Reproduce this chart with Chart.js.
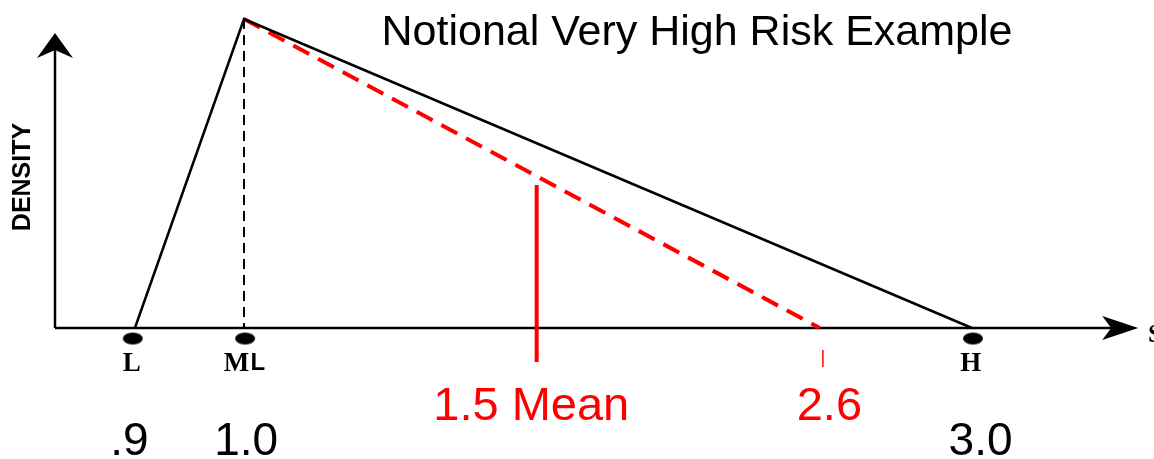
<!DOCTYPE html>
<html>
<head>
<meta charset="utf-8">
<script src="https://cdn.jsdelivr.net/npm/chart.js@4"></script>
<style>
  html, body { margin: 0; padding: 0; background: #fff; }
  #wrap { width: 1154px; height: 459px; }
</style>
</head>
<body>
<div id="wrap"><canvas id="canvas"></canvas></div>
<script>
// schematic x positions (0 = origin of axis, 100 = arrow tip), density 0..1 at mode
var lowX = 7.4, modeX = 17.5, highX = 84.9;
var meanX = 44.6, meanTop = 0.463, meanBottom = -0.11;
var p90X = 70.8, p90TickX = 71.1;

var trianglePts = [[lowX, 0], [modeX, 1], [highX, 0]];
var modeLine = [[modeX, 1], [modeX, 0]];
var riskLine = [[modeX, 1], [p90X, 0]];
var meanLine = [[meanX, meanTop], [meanX, meanBottom]];
var p90Tick = [[p90TickX, -0.071], [p90TickX, -0.126]];
var dotX = [7.2, 17.6, 85.0];

// letters under the dots
var letterText = ['L', 'M', 'H'];
var letterX = [7.1, 16.8, 84.8];
// numbers
var valueText = ['.9', '1.0', '3.0'];
var valueX = [6.9, 17.7, 85.7];
var redText = ['1.5 Mean', '2.6'];
var redX = [44.1, 71.7];

var titleText = 'Notional Very High Risk Example';

function pts(a) {
  return a.map(function (p) { return { x: p[0], y: p[1] }; });
}

// ellipse point style for the dots
var dot = document.createElement('canvas');
dot.width = 22; dot.height = 14;
var dctx = dot.getContext('2d');
dctx.fillStyle = '#000';
dctx.beginPath();
dctx.ellipse(11, 7, 10, 6, 0, 0, Math.PI * 2);
dctx.fill();

var axesPlugin = {
  id: 'axes',
  beforeDatasetsDraw: function (chart) {
    var c = chart.ctx, xs = chart.scales.x, ys = chart.scales.y;
    var x0 = xs.getPixelForValue(0), y0 = ys.getPixelForValue(0);
    var xTip = xs.getPixelForValue(100.3), yTip = ys.getPixelForValue(0.955);
    c.save();
    c.strokeStyle = '#000';
    c.fillStyle = '#000';
    c.lineWidth = 2.5;
    c.beginPath();
    c.moveTo(x0, y0); c.lineTo(xTip - 10, y0);
    c.moveTo(x0, y0); c.lineTo(x0, yTip + 10);
    c.stroke();
    // arrow heads
    c.beginPath();
    c.moveTo(xTip, y0);
    c.lineTo(xTip - 36, y0 - 12);
    c.lineTo(xTip - 27, y0);
    c.lineTo(xTip - 36, y0 + 12);
    c.closePath();
    c.fill();
    c.beginPath();
    c.moveTo(x0, yTip);
    c.lineTo(x0 - 18, yTip + 25);
    c.lineTo(x0, yTip + 17);
    c.lineTo(x0 + 18, yTip + 25);
    c.closePath();
    c.fill();
    c.restore();
  },
  afterDatasetsDraw: function (chart) {
    var c = chart.ctx, xs = chart.scales.x, ys = chart.scales.y;
    var y0 = ys.getPixelForValue(0);
    c.save();
    c.textBaseline = 'alphabetic';
    c.textAlign = 'center';
    c.fillStyle = '#000';

    c.font = '43px "Liberation Sans", Arial, sans-serif';
    c.fillText(titleText, 697, 45);

    c.font = 'bold 27px "Liberation Serif", "Times New Roman", serif';
    for (var i = 0; i < letterText.length; i++) {
      c.fillText(letterText[i], xs.getPixelForValue(letterX[i]), y0 + 43);
    }
    // the sans "L" after M
    c.textAlign = 'left';
    c.font = 'bold 24px "Liberation Sans", Arial, sans-serif';
    c.fillText('L', xs.getPixelForValue(letterX[1]) + 14, y0 + 42);
    c.font = 'bold 26px "Liberation Serif", serif';
    c.fillText('S', 1148, y0 + 14);

    c.textAlign = 'center';
    c.font = '46px "Liberation Sans", Arial, sans-serif';
    for (var j = 0; j < valueText.length; j++) {
      c.fillText(valueText[j], xs.getPixelForValue(valueX[j]), y0 + 127);
    }
    c.fillStyle = '#ff0000';
    c.font = '47px "Liberation Sans", Arial, sans-serif';
    for (var k = 0; k < redText.length; k++) {
      c.fillText(redText[k], xs.getPixelForValue(redX[k]), y0 + 92);
    }

    c.fillStyle = '#000';
    c.font = 'bold 25px "Liberation Sans", Arial, sans-serif';
    c.translate(30, 177);
    c.rotate(-Math.PI / 2);
    c.fillText('DENSITY', 0, 0);
    c.restore();
  }
};

var lineDefaults = { showLine: true, pointRadius: 0, fill: false, clip: false, tension: 0 };

var config = {
  type: 'scatter',
  data: {
    datasets: [
      Object.assign({ label: 'triangle', data: pts(trianglePts), borderColor: '#000', borderWidth: 2.5 }, lineDefaults),
      Object.assign({ label: 'mode', data: pts(modeLine), borderColor: '#000', borderWidth: 2, borderDash: [10, 6] }, lineDefaults),
      Object.assign({ label: 'very high risk', data: pts(riskLine), borderColor: '#ff0000', borderWidth: 4, borderDash: [18, 10] }, lineDefaults),
      Object.assign({ label: 'mean', data: pts(meanLine), borderColor: '#ff0000', borderWidth: 4 }, lineDefaults),
      Object.assign({ label: 'p90', data: pts(p90Tick), borderColor: '#ff0000', borderWidth: 1.5 }, lineDefaults),
      {
        label: 'points',
        data: dotX.map(function (x) { return { x: x, y: -0.034 }; }),
        pointStyle: dot,
        pointRadius: 10,
        clip: false,
        showLine: false
      }
    ]
  },
  options: {
    responsive: true,
    maintainAspectRatio: false,
    animation: false,
    layout: { padding: { left: 55, right: 19, top: 19, bottom: 131 } },
    plugins: { legend: { display: false }, tooltip: { enabled: false }, title: { display: false } },
    scales: {
      x: { type: 'linear', min: 0, max: 100, display: false },
      y: { type: 'linear', min: 0, max: 1, display: false }
    }
  },
  plugins: [axesPlugin]
};

var ctx = document.getElementById('canvas').getContext('2d');
window.myChart = new Chart(ctx, config);
</script>
</body>
</html>
